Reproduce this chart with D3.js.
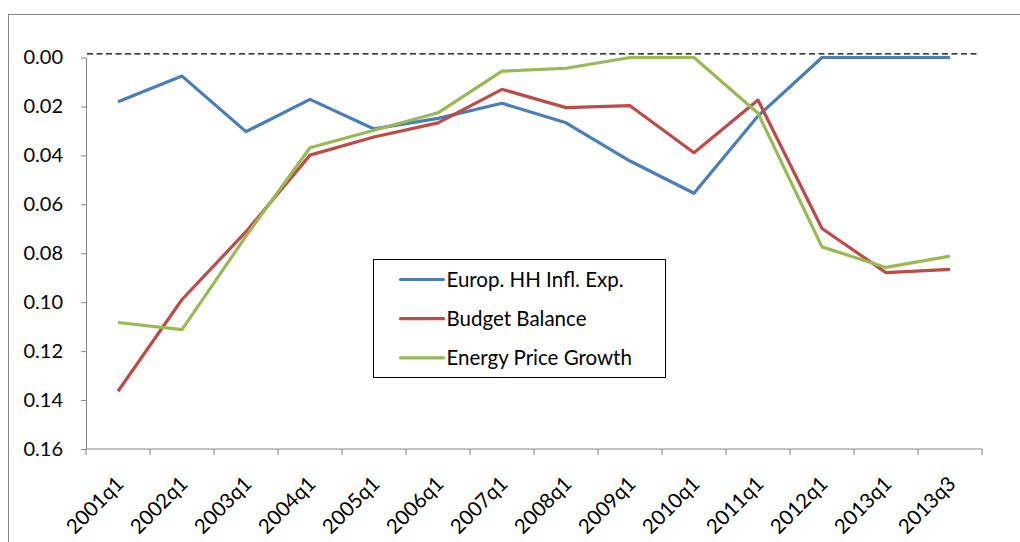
<!DOCTYPE html>
<html>
<head>
<meta charset="utf-8">
<script src="https://cdn.jsdelivr.net/npm/d3@7"></script>
<style>
  body { margin: 0; background: #fff; }
  text { font-family: Lato, "Open Sans", sans-serif; fill: #000; }
</style>
</head>
<body>
<div id="vis1"></div>
<script>
const FRAME_HEIGHT = 542;
const FRAME_WIDTH = 1020;
const MARGINS = {left: 86, right: 38, top: 57.5, bottom: 93};

const VIS_HEIGHT = FRAME_HEIGHT - MARGINS.top - MARGINS.bottom;
const VIS_WIDTH = FRAME_WIDTH - MARGINS.left - MARGINS.right;

// data
const QUARTERS = ["2001q1", "2002q1", "2003q1", "2004q1", "2005q1", "2006q1", "2007q1",
                  "2008q1", "2009q1", "2010q1", "2011q1", "2012q1", "2013q1", "2013q3"];
const INFL_EXP = [0.0181, 0.0076, 0.0303, 0.0171, 0.0292, 0.0249, 0.0187,
                  0.0267, 0.0423, 0.0555, 0.0239, 0.0000, 0.0000, 0.0000];
const BUDGET = [0.1364, 0.0989, 0.0712, 0.0399, 0.0325, 0.0267, 0.0130,
                0.0205, 0.0197, 0.0389, 0.0174, 0.0699, 0.0879, 0.0866];
const ENERGY = [0.1083, 0.1112, 0.0730, 0.0369, 0.0297, 0.0226, 0.0056,
                0.0044, 0.0000, 0.0000, 0.0228, 0.0774, 0.0858, 0.0812];
const Y_TICKS = [0, 0.02, 0.04, 0.06, 0.08, 0.10, 0.12, 0.14, 0.16];
const REF_LINE = -0.0015;

const SERIES = [
  {name: "Europ. HH Infl. Exp.", values: INFL_EXP, color: "#4a7ebb"},
  {name: "Budget Balance", values: BUDGET, color: "#be4b48"},
  {name: "Energy Price Growth", values: ENERGY, color: "#98b954"}
];

const FRAME = d3.select("#vis1")
                  .append("svg")
                    .attr("height", FRAME_HEIGHT)
                    .attr("width", FRAME_WIDTH)
                    .attr("class", "frame");

// chart area border (cut off at right and bottom)
FRAME.append("rect")
      .attr("x", 8.5)
      .attr("y", 14.5)
      .attr("width", 1100)
      .attr("height", 600)
      .attr("fill", "none")
      .attr("stroke", "#868686");

const X_SCALE = d3.scaleBand()
                  .domain(QUARTERS)
                  .range([0, VIS_WIDTH]);

// inverted axis: 0 on top
const Y_SCALE = d3.scaleLinear()
                  .domain([0, 0.16])
                  .range([0, VIS_HEIGHT]);

const G = FRAME.append("g")
            .attr("transform", "translate(" + MARGINS.left + "," + MARGINS.top + ")");

// y axis
const yAxis = G.append("g")
      .call(d3.axisLeft(Y_SCALE).tickValues(Y_TICKS).tickFormat(d3.format(".2f"))
              .tickSizeInner(5).tickSizeOuter(0).tickPadding(18));
yAxis.selectAll("path, line").attr("stroke", "#868686");
yAxis.selectAll("text").attr("font-size", "20px");

// x axis, ticks at band edges
const xAxis = G.append("g")
      .attr("transform", "translate(0," + VIS_HEIGHT + ")");
xAxis.append("line")
      .attr("x1", 0).attr("x2", VIS_WIDTH)
      .attr("stroke", "#868686");
xAxis.selectAll(".edge")
      .data(QUARTERS.concat(["end"]))
      .enter()
      .append("line")
        .attr("x1", (d, i) => i * X_SCALE.bandwidth())
        .attr("x2", (d, i) => i * X_SCALE.bandwidth())
        .attr("y1", 0).attr("y2", 6)
        .attr("stroke", "#868686");
xAxis.selectAll(".lab")
      .data(QUARTERS)
      .enter()
      .append("text")
        .attr("transform", (d) => "translate(" + (X_SCALE(d) + X_SCALE.bandwidth() / 2 + 7) + ",36) rotate(-45)")
        .attr("text-anchor", "end")
        .attr("font-size", "20.5px")
        .text((d) => d);

// dashed reference line
G.append("line")
  .attr("x1", 1).attr("x2", VIS_WIDTH - 2)
  .attr("y1", Y_SCALE(REF_LINE)).attr("y2", Y_SCALE(REF_LINE))
  .attr("stroke", "#000")
  .attr("stroke-width", 1.4)
  .attr("stroke-dasharray", "6,3.5");

const LINE = d3.line()
                .x((d, i) => X_SCALE(QUARTERS[i]) + X_SCALE.bandwidth() / 2)
                .y((d) => Y_SCALE(d));

G.selectAll(".series")
  .data(SERIES)
  .enter()
  .append("path")
    .attr("d", (d) => LINE(d.values))
    .attr("fill", "none")
    .attr("stroke", (d) => d.color)
    .attr("stroke-width", 3.2)
    .attr("stroke-linejoin", "round");

// legend
const LEG = FRAME.append("g")
              .attr("transform", "translate(373.5,259.5)");
LEG.append("rect")
    .attr("width", 292).attr("height", 118)
    .attr("fill", "#fff")
    .attr("stroke", "#000");
const rows = LEG.selectAll(".row")
    .data(SERIES)
    .enter()
    .append("g")
      .attr("transform", (d, i) => "translate(0," + (20 + i * 39.2) + ")");
rows.append("line")
    .attr("x1", 27).attr("x2", 70)
    .attr("stroke", (d) => d.color)
    .attr("stroke-width", 3.2)
    .attr("stroke-linecap", "round");
rows.append("text")
    .attr("x", 73)
    .attr("y", 7)
    .attr("font-size", "20.5px")
    .text((d) => d.name);
</script>
</body>
</html>
